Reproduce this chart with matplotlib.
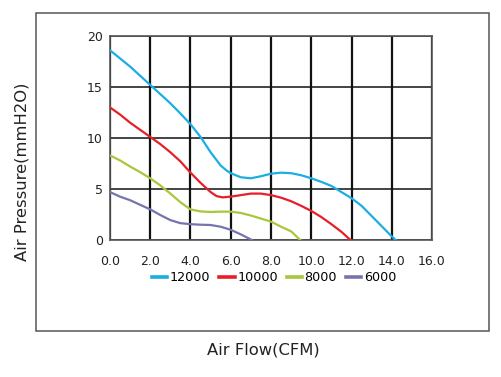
import numpy as np
import matplotlib
matplotlib.use("Agg")
import matplotlib.pyplot as plt
from matplotlib.patches import Rectangle

# Fan P-Q curves (air flow in CFM, pressure in mmH2O)
flow_12000 = [0.0, 0.5, 1.0, 1.5, 2.0, 2.5, 3.0, 3.5, 4.0, 4.5, 5.0, 5.5, 5.8, 6.0, 6.5, 7.0,
              7.5, 8.0, 8.5, 9.0, 9.5, 10.0, 10.5, 11.0, 11.5, 12.0, 12.5, 13.0, 13.5, 14.0, 14.2]
pres_12000 = [18.6, 17.8, 17.0, 16.1, 15.2, 14.3, 13.4, 12.4, 11.35, 10.1, 8.6, 7.3, 6.8, 6.55, 6.15, 6.05,
              6.25, 6.5, 6.6, 6.55, 6.35, 6.05, 5.7, 5.3, 4.7, 4.1, 3.35, 2.35, 1.35, 0.35, 0.0]

flow_10000 = [0.0, 0.5, 1.0, 1.5, 2.0, 2.5, 3.0, 3.5, 4.0, 4.5, 5.0, 5.3, 5.6, 6.0, 6.5, 7.0,
              7.5, 8.0, 8.5, 9.0, 9.5, 10.0, 10.5, 11.0, 11.5, 11.95]
pres_10000 = [13.0, 12.3, 11.5, 10.8, 10.1, 9.4, 8.6, 7.7, 6.6, 5.6, 4.7, 4.3, 4.18, 4.25, 4.4, 4.55,
              4.55, 4.4, 4.15, 3.8, 3.35, 2.85, 2.25, 1.55, 0.8, 0.0]

flow_8000 = [0.0, 0.5, 1.0, 1.5, 2.0, 2.5, 3.0, 3.5, 4.0, 4.5, 5.0, 5.5, 6.0, 6.5, 7.0,
             7.5, 8.0, 8.5, 9.0, 9.45]
pres_8000 = [8.3, 7.8, 7.2, 6.65, 6.05, 5.35, 4.55, 3.7, 3.0, 2.8, 2.75, 2.78, 2.78, 2.65, 2.4,
             2.1, 1.8, 1.3, 0.85, 0.0]

flow_6000 = [0.0, 0.5, 1.0, 1.5, 2.0, 2.5, 3.0, 3.5, 4.0, 4.5, 5.0, 5.5, 6.0, 6.5, 7.05]
pres_6000 = [4.7, 4.25, 3.9, 3.45, 3.0, 2.45, 1.95, 1.65, 1.55, 1.5, 1.47, 1.3, 1.0, 0.55, 0.0]

x_ticks = [0, 2, 4, 6, 8, 10, 12, 14, 16]
y_ticks = [0, 5, 10, 15, 20]

curves = [
    (flow_12000, pres_12000, "12000", "#1aaee3"),
    (flow_10000, pres_10000, "10000", "#e61f2b"),
    (flow_8000, pres_8000, "8000", "#a9c73b"),
    (flow_6000, pres_6000, "6000", "#7674ae"),
]

fig = plt.figure(figsize=(5.02, 3.77), dpi=100)
fig.patch.set_facecolor("white")

# outer frame around the chart
fig.patches.append(Rectangle((0.0717, 0.122), 0.9024, 0.8435, transform=fig.transFigure,
                             fill=False, edgecolor="#555555", linewidth=1.1))

ax = fig.add_axes([0.2191, 0.3634, 0.6415, 0.5411])

for x, y, label, color in curves:
    ax.plot(x, y, color=color, linewidth=1.6, label=label, zorder=3)

ax.set_xlim(0, 16)
ax.set_ylim(0, 20)
ax.set_xticks(x_ticks)
ax.set_xticklabels([f"{v:.1f}" for v in x_ticks])
ax.set_yticks(y_ticks)
ax.set_yticklabels([str(v) for v in y_ticks])
ax.tick_params(axis="both", length=0, labelsize=9, colors="#222222")
ax.tick_params(axis="x", pad=11)
ax.tick_params(axis="y", pad=5)

ax.grid(True, axis="x", color="#111111", linewidth=1.6)
ax.grid(True, axis="y", color="#111111", linewidth=1.1)
for s in ax.spines.values():
    s.set_color("#555555")
    s.set_linewidth(1.2)

ax.set_ylabel("Air Pressure(mmH2O)", fontsize=11.8, color="#222222")
ax.yaxis.set_label_coords(-0.25, 0.333)

fig.text(0.524, 0.072, "Air Flow(CFM)", fontsize=11.8, ha="center", va="center", color="#222222")

leg = fig.legend(loc="center", bbox_to_anchor=(0.546, 0.2626), ncol=4, frameon=False,
                 fontsize=9.2, handlelength=1.2, handletextpad=0.2, columnspacing=0.7)
for line in leg.get_lines():
    line.set_linewidth(2.6)

fig.savefig("out.png", dpi=100)
